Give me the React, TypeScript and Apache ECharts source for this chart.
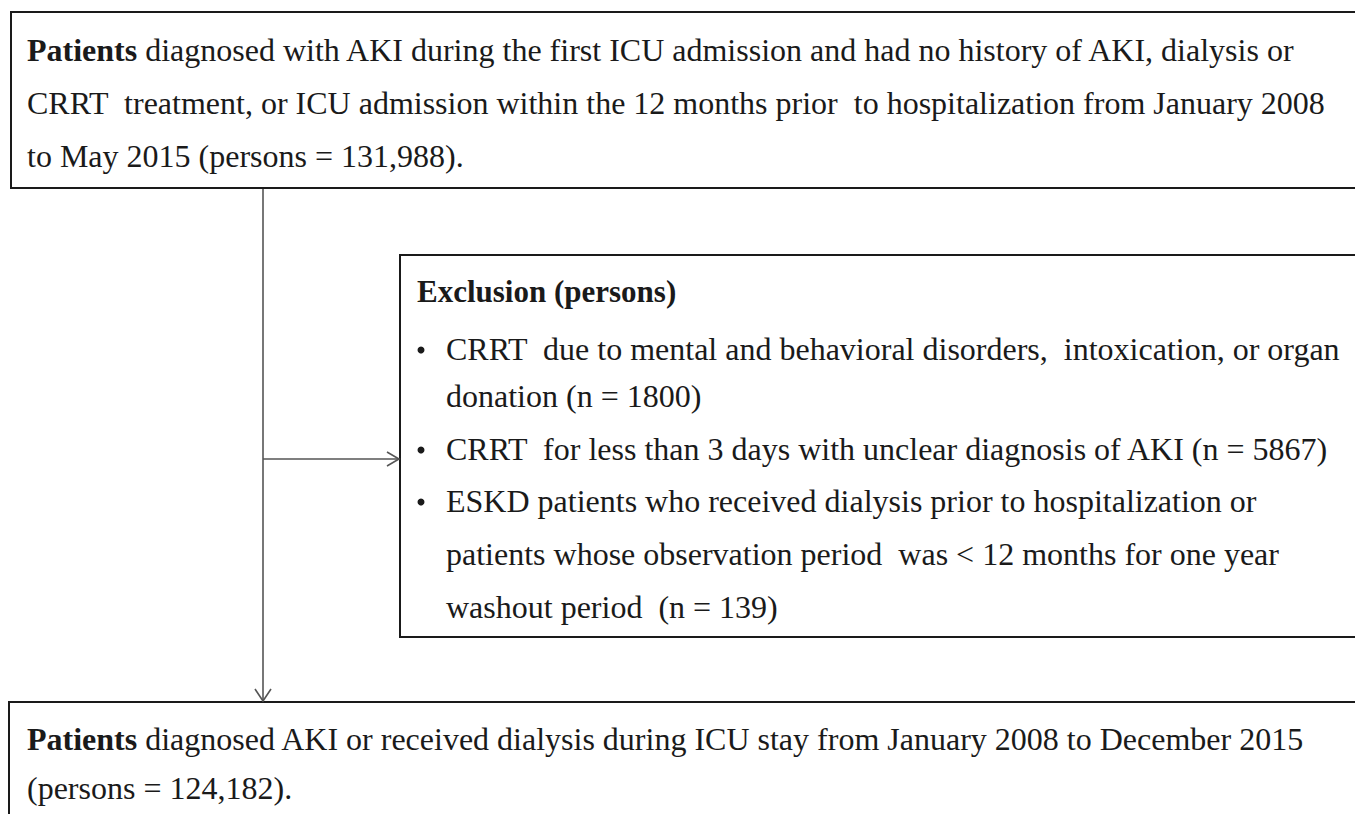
import React, { useEffect, useRef } from "react";
import * as echarts from "echarts";

const topLines = [
  "{b|Patients} diagnosed with AKI during the first ICU admission and had no history of AKI, dialysis or",
  "CRRT  treatment, or ICU admission within the 12 months prior  to hospitalization from January 2008",
  "to May 2015 (persons = 131,988).",
];
const exclusionTitle = "Exclusion (persons)";
const exclusionLines = [
  { bullet: true, text: "CRRT  due to mental and behavioral disorders,  intoxication, or organ" },
  { bullet: false, text: "donation (n = 1800)" },
  { bullet: true, text: "CRRT  for less than 3 days with unclear diagnosis of AKI (n = 5867)" },
  { bullet: true, text: "ESKD patients who received dialysis prior to hospitalization or" },
  { bullet: false, text: "patients whose observation period  was < 12 months for one year" },
  { bullet: false, text: "washout period  (n = 139)" },
];
const bottomLines = [
  "{b|Patients} diagnosed AKI or received dialysis during ICU stay from January 2008 to December 2015",
  "(persons = 124,182).",
];

const FONT = "'Liberation Serif', 'DejaVu Serif', serif";
const FS = 32;
const COLOR = "#1a1a1a";

function textEl(x: number, baseline: number, text: string, bold = false, fs = FS) {
  return {
    type: "text",
    x,
    y: baseline - fs * 0.33,
    style: {
      text,
      fontFamily: FONT,
      fontSize: fs,
      fontWeight: bold ? "bold" : "normal",
      fill: COLOR,
      verticalAlign: "middle",
      align: "left",
      rich: {
        b: { fontFamily: FONT, fontSize: fs, fontWeight: "bold", fill: COLOR },
      },
    },
  };
}

export default function App() {
  const ref = useRef<HTMLDivElement>(null);
  useEffect(() => {
    document.body.style.margin = "0";
    const chart = echarts.init(ref.current!, undefined, { renderer: "svg" });
    const elements: any[] = [];
    const frame = { stroke: COLOR, lineWidth: 2, fill: "none" };
    const conn = { stroke: "#555", lineWidth: 1.6 };
    // boxes
    elements.push({ type: "rect", shape: { x: 11, y: 12, width: 1400, height: 176 }, style: frame });
    elements.push({ type: "rect", shape: { x: 400, y: 255, width: 1000, height: 382 }, style: frame });
    elements.push({ type: "rect", shape: { x: 9, y: 702, width: 1400, height: 200 }, style: frame });
    // connectors
    elements.push({ type: "line", shape: { x1: 263, y1: 189, x2: 263, y2: 701 }, style: conn });
    elements.push({ type: "line", shape: { x1: 263, y1: 459, x2: 399, y2: 459 }, style: conn });
    elements.push({ type: "polyline", shape: { points: [[387, 452], [399, 459], [387, 466]] }, style: { ...conn, fill: "none" } });
    elements.push({ type: "polyline", shape: { points: [[255, 689], [263, 701], [271, 689]] }, style: { ...conn, fill: "none" } });
    // top texts
    const topBase = [61, 114, 167];
    topLines.forEach((t, i) => elements.push(textEl(27, topBase[i], t)));
    // exclusion
    elements.push(textEl(417, 302, exclusionTitle, true, 31));
    const exBase = [360, 407, 460, 512, 565, 618];
    exclusionLines.forEach((l, i) => {
      if (l.bullet) {
        elements.push({ type: "circle", shape: { cx: 421, cy: exBase[i] - 10, r: 3.5 }, style: { fill: COLOR } });
      }
      elements.push(textEl(446, exBase[i], l.text));
    });
    // bottom
    const botBase = [750, 799];
    bottomLines.forEach((t, i) => elements.push(textEl(27, botBase[i], t)));

    chart.setOption({
      animation: false,
      backgroundColor: "#fff",
      graphic: { elements },
    });
    return () => chart.dispose();
  }, []);
  return <div ref={ref} style={{ width: 1355, height: 814 }} />;
}
